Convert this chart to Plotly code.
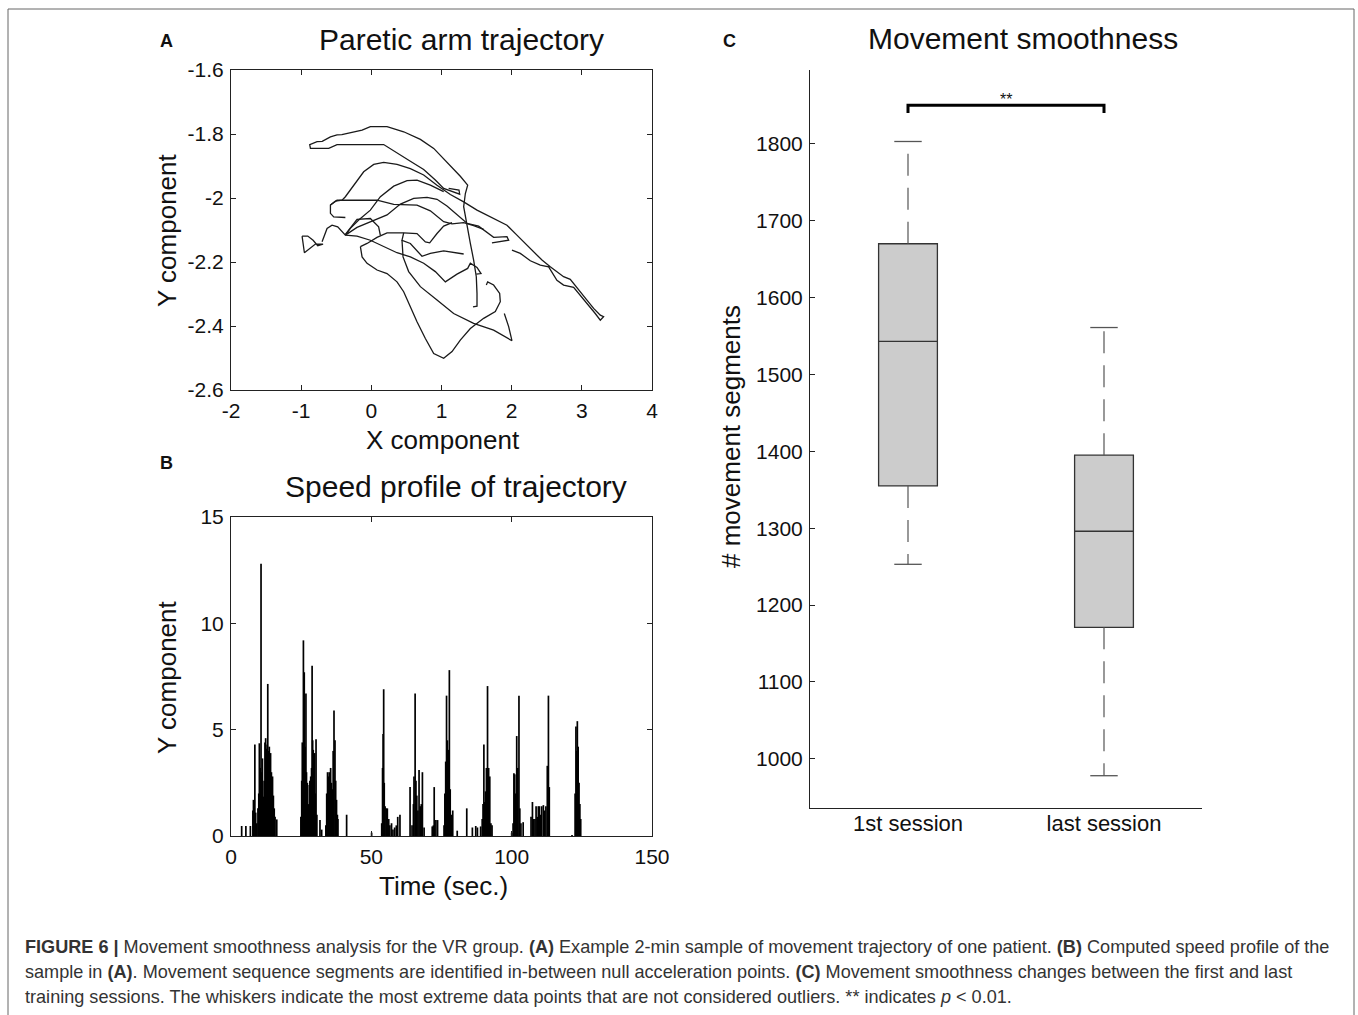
import plotly.graph_objects as go

W, H = 1358, 1015
FONT = "Liberation Sans, Arial, sans-serif"


def fx(p):
    return p / W


def fy(p):
    return 1 - p / H


# ---------------- Panel A: trajectory (strokes separated by None) ----------------
traj_x = [
    1.102, 1.249, 1.259, 1.031, 0.912, 0.746, 0.556, 0.366, 0.176, -0.489, -0.607, -0.868,
    -0.878, -0.773, -0.700, -0.583, -0.489, -0.420, -0.346, -0.227, -0.132, -0.014, 0.224, 0.461,
    0.699, 0.889, 1.078, 1.268, 1.373, 1.340, 1.316, 1.363, 1.411, 1.458, 1.496, 1.506, 1.506, 1.449,
    None,
    -0.370, -0.536, -0.583, -0.583, -0.512, -0.417, -0.370, -0.299, -0.204, -0.109, 0.034, 0.176,
    0.366, 0.556, 0.746, 0.936, 1.126, 1.316, 1.506, 1.648, 1.791, 1.933, 2.075, 2.266, 2.432,
    2.550, 2.740, 2.835, 2.954, 3.073, 3.168, 3.263, 3.310, 3.263, 3.191, 3.073, 2.978, 2.883,
    2.740, 2.645, 2.527, 2.408, 2.266, 2.123, 2.004,
    None,
    1.031, 0.841, 0.651, 0.509, 0.319, 0.129, -0.014, -0.180, -0.299, -0.370,
    -0.204, -0.014, 0.224, 0.414, 0.604, 0.794, 0.936, 1.078, 1.221, 1.363, 1.529, 1.672, 1.743,
    1.933, 1.957, 1.719,
    None,
    -0.583, -0.489, -0.204, 0.081, 0.319, 0.651, 0.841, 1.031, 1.150, 1.316, 1.458, 1.601,
    None,
    -0.987, -0.906, -0.830, -0.764, -0.688, -0.797, -0.954, -0.973, -0.987,
    None,
    -0.702, -0.631, -0.560, -0.479, -0.370, -0.204, -0.014, 0.176, 0.366, 0.556, 0.746, 0.912,
    1.055, 1.221, 1.373, 1.411, 1.506, 1.563, 1.496,
    None,
    -0.156, -0.061, 0.081, 0.224, 0.461, 0.651, 0.770, 0.832, 0.936, 1.031, 1.150,
    None,
    0.461, 0.437, 0.556, 0.722, 0.841, 1.031, 1.316,
    None,
    -0.156, -0.132, -0.061, 0.081, 0.224, 0.366, 0.461, 0.556, 0.651, 0.770, 0.889, 1.031,
    1.150, 1.268, 1.411, 1.601, 1.767, 1.838, 1.829, 1.743, 1.658, 1.639,
    None,
    0.437, 0.452, 0.532, 0.699, 0.936, 1.173, 1.458, 1.743, 2.004, 1.957, 1.895,
    None,
    -0.370, -0.204, -0.014, 0.104, 0.128,
]
traj_y = [
    -1.970, -1.975, -1.988, -1.970, -1.944, -1.911, -1.885, -1.859, -1.833, -1.833, -1.845, -1.845,
    -1.833, -1.824, -1.823, -1.809, -1.803, -1.802, -1.798, -1.791, -1.788, -1.777, -1.777, -1.793,
    -1.817, -1.845, -1.887, -1.932, -1.960, -1.986, -2.027, -2.090, -2.142, -2.194, -2.246, -2.298, -2.338, -2.340,
    None,
    -2.061, -2.059, -2.048, -2.022, -2.010, -2.007, -1.996, -1.975, -1.944, -1.918, -1.895, -1.889,
    -1.895, -1.908, -1.928, -1.960, -1.989, -2.012, -2.038, -2.053, -2.069, -2.085, -2.116, -2.158, -2.194,
    -2.215, -2.246, -2.254, -2.288, -2.319, -2.345, -2.366, -2.371, -2.382, -2.361, -2.329, -2.303, -2.279,
    -2.272, -2.257, -2.215, -2.210, -2.196, -2.173, -2.163,
    None,
    -1.980, -1.960, -1.944, -1.946, -1.963, -1.996, -2.038, -2.069, -2.095, -2.116,
    -2.092, -2.074, -2.053, -2.019, -2.001, -1.998, -2.004, -2.025, -2.053, -2.079, -2.088, -2.111, -2.123,
    -2.121, -2.132, -2.140,
    None,
    -2.022, -2.007, -2.007, -2.007, -2.020, -2.022, -2.040, -2.074, -2.081, -2.077, -2.086, -2.098,
    None,
    -2.119, -2.119, -2.132, -2.149, -2.144, -2.144, -2.171, -2.142, -2.119,
    None,
    -2.137, -2.095, -2.085, -2.090, -2.116, -2.119, -2.132, -2.152, -2.171, -2.184, -2.204, -2.230,
    -2.262, -2.238, -2.220, -2.204, -2.217, -2.236, -2.238,
    None,
    -2.152, -2.142, -2.123, -2.109, -2.109, -2.111, -2.137, -2.140, -2.111, -2.088, -2.077,
    None,
    -2.109, -2.132, -2.142, -2.182, -2.173, -2.165, -2.175,
    None,
    -2.152, -2.184, -2.204, -2.225, -2.236, -2.262, -2.293, -2.340, -2.387, -2.439, -2.486, -2.501,
    -2.480, -2.444, -2.408, -2.376, -2.355, -2.324, -2.298, -2.272, -2.262, -2.272,
    None,
    -2.132, -2.184, -2.230, -2.277, -2.319, -2.361, -2.392, -2.413, -2.446, -2.402, -2.361,
    None,
    -2.114, -2.067, -2.064, -2.090, -2.116,
]

a_xticks = [-2, -1, 0, 1, 2, 3, 4]
a_yticks = [-2.6, -2.4, -2.2, -2.0, -1.8, -1.6]
a_yticklabels = ["-2.6", "-2.4", "-2.2", "-2", "-1.8", "-1.6"]
a_xticklabels = ["-2", "-1", "0", "1", "2", "3", "4"]

# ---------------- Panel B: speed profile (time s, speed) ----------------
speed_samples = [
    (3.8, 0.47), (5.3, 0.47), (6.9, 0.47),
    (7.8, 1.2), (8.0, 1.7), (8.5, 4.3), (8.8, 1.1), (9.2, 0.6), (9.6, 1.3), (9.9, 2.0),
    (10.1, 4.36), (10.4, 3.2), (10.7, 12.8), (11.0, 3.0), (11.2, 3.65), (11.5, 1.85),
    (11.8, 2.6), (12.1, 4.4), (12.35, 4.6), (12.6, 4.1), (12.9, 4.3), (13.1, 7.15),
    (13.4, 4.0), (13.65, 4.2), (13.9, 3.6), (14.1, 3.9), (14.4, 3.0), (14.8, 2.8),
    (15.1, 1.9), (15.4, 1.3), (15.7, 0.9), (16.3, 0.78),
    (24.9, 0.9), (25.2, 2.6), (25.4, 4.4), (25.6, 4.0), (25.8, 9.2), (26.0, 5.5),
    (26.1, 7.7), (26.4, 4.2), (26.7, 6.7), (26.9, 3.0), (27.2, 2.5), (27.5, 1.5),
    (27.9, 2.4), (28.1, 2.6), (28.4, 2.8), (28.7, 3.2), (28.9, 8.0), (29.1, 4.5),
    (29.3, 4.05), (29.5, 2.3), (29.8, 3.9), (30.0, 2.0), (30.3, 4.55), (30.6, 1.0),
    (31.7, 0.75), (32.3, 0.3),
    (33.8, 0.5), (34.1, 2.0), (34.4, 3.0), (34.7, 2.8), (35.0, 3.0), (35.2, 2.2),
    (35.5, 3.2), (35.8, 2.5), (36.1, 2.2), (36.4, 4.0), (36.7, 5.9), (37.05, 4.5),
    (37.3, 2.6), (37.6, 1.7), (37.9, 1.0), (38.1, 0.8),
    (41.2, 1.0), (50.1, 0.16),
    (53.7, 0.6), (54.0, 3.2), (54.2, 4.8), (54.4, 6.9), (54.6, 2.5), (54.9, 1.4),
    (55.3, 1.3), (55.7, 1.3), (56.2, 0.8), (56.6, 0.5), (57.2, 0.6), (57.7, 0.3),
    (58.3, 0.4), (58.9, 0.5), (59.4, 0.9), (60.2, 1.0),
    (63.8, 2.3), (64.5, 0.5), (65.0, 1.5), (65.2, 2.8), (65.6, 6.7), (65.9, 2.6),
    (66.2, 1.9), (66.6, 1.2), (67.0, 3.1), (67.4, 1.4), (67.8, 1.5), (68.2, 3.0),
    (68.8, 0.4), (71.7, 0.45), (72.1, 0.5), (72.4, 2.3), (73.0, 0.75), (73.6, 0.75),
    (75.9, 0.5), (76.2, 2.0), (76.5, 3.5), (76.8, 6.6), (77.1, 4.5), (77.4, 4.05),
    (77.8, 7.8), (78.1, 2.2), (78.5, 1.0), (79.0, 1.2), (80.6, 0.25),
    (84.0, 1.3), (86.0, 0.4), (87.2, 0.47), (87.8, 0.4),
    (88.95, 0.45), (89.5, 0.8), (89.8, 1.5), (90.1, 4.3), (90.4, 1.6), (90.7, 2.1),
    (91.0, 3.2), (91.4, 7.05), (91.8, 3.2), (92.2, 2.8), (92.6, 0.6), (93.0, 0.5),
    (100.0, 0.15), (100.5, 0.6), (100.8, 2.95), (101.1, 2.9), (101.4, 2.0), (101.8, 4.7),
    (102.2, 3.2), (102.6, 6.6), (102.9, 1.3), (103.3, 0.6), (104.1, 0.65),
    (106.9, 0.9), (107.4, 1.6), (107.8, 0.8), (108.3, 0.8), (108.7, 1.4), (109.1, 0.9),
    (109.5, 1.4), (109.9, 1.4), (110.3, 1.0), (110.7, 1.4), (111.3, 1.45), (111.7, 1.2),
    (112.2, 1.4), (112.7, 3.3), (113.1, 6.6), (113.4, 2.3),
    (121.5, 0.05), (122.6, 2.0), (122.9, 5.15), (123.2, 4.0), (123.4, 5.4), (123.7, 4.2),
    (124.0, 2.5), (124.3, 1.5), (124.6, 0.8),
]
b_xticks = [0, 50, 100, 150]
b_yticks = [0, 5, 10, 15]

# ---------------- Panel C: box plot ----------------
sessions = ["1st session", "last session"]
session_pos = [1, 2]
box_q1 = [1355, 1171]
box_median = [1543, 1296]
box_q3 = [1670, 1395]
whisker_low = [1253, 978]
whisker_high = [1803, 1561]
c_yticks = [1000, 1100, 1200, 1300, 1400, 1500, 1600, 1700, 1800]
bracket_low, bracket_high = 1840, 1850

fig = go.Figure()

# Panel A trace
fig.add_trace(go.Scatter(x=traj_x, y=traj_y, mode="lines",
                         line=dict(color="#1a1a1a", width=1.3),
                         xaxis="x", yaxis="y", showlegend=False, hoverinfo="skip"))

# Panel B spikes
sx, sy = [], []
for t, v in speed_samples:
    sx += [t, t, None]
    sy += [0, v, None]
fig.add_trace(go.Scatter(x=sx, y=sy, mode="lines",
                         line=dict(color="black", width=1.7),
                         xaxis="x2", yaxis="y2", showlegend=False, hoverinfo="skip"))

# Panel C boxes
for i in range(2):
    fig.add_trace(go.Box(x=[session_pos[i]], q1=[box_q1[i]], median=[box_median[i]],
                         q3=[box_q3[i]], lowerfence=[box_q1[i]], upperfence=[box_q3[i]],
                         width=0.30, whiskerwidth=0, boxpoints=False,
                         fillcolor="#cccccc", line=dict(color="#333333", width=1.3),
                         xaxis="x3", yaxis="y3", showlegend=False, hoverinfo="skip"))
    p = session_pos[i]
    # dashed whiskers
    fig.add_trace(go.Scatter(x=[p, p, None, p, p], y=[box_q3[i], whisker_high[i], None, box_q1[i], whisker_low[i]],
                             mode="lines", line=dict(color="#555555", width=1.2, dash="22px,12px"),
                             xaxis="x3", yaxis="y3", showlegend=False, hoverinfo="skip"))
    # caps
    fig.add_trace(go.Scatter(x=[p - 0.07, p + 0.07, None, p - 0.07, p + 0.07],
                             y=[whisker_high[i], whisker_high[i], None, whisker_low[i], whisker_low[i]],
                             mode="lines", line=dict(color="#555555", width=1.3),
                             xaxis="x3", yaxis="y3", showlegend=False, hoverinfo="skip"))

# significance bracket
fig.add_trace(go.Scatter(x=[session_pos[0], session_pos[0], session_pos[1], session_pos[1]],
                         y=[bracket_low, bracket_high, bracket_high, bracket_low],
                         mode="lines", line=dict(color="black", width=3),
                         xaxis="x3", yaxis="y3", showlegend=False, hoverinfo="skip"))

axcol = "#222222"
tickfont = dict(family=FONT, size=21, color="#111")
common = dict(showgrid=False, zeroline=False, showline=True, linecolor=axcol, linewidth=1,
              ticks="inside", ticklen=5, tickcolor=axcol, tickfont=tickfont, automargin=False)

fig.update_layout(
    width=W, height=H, autosize=False,
    margin=dict(l=0, r=0, t=0, b=0, pad=0, autoexpand=False),
    paper_bgcolor="white", plot_bgcolor="white",
    xaxis=dict(domain=[fx(231), fx(652)], range=[-2, 4], tickvals=a_xticks, ticktext=a_xticklabels,
               mirror="allticks", anchor="y", ticklabelstandoff=2, **common),
    yaxis=dict(domain=[fy(390), fy(70)], range=[-2.6, -1.6], tickvals=a_yticks, ticktext=a_yticklabels,
               mirror="allticks", anchor="x", ticklabelstandoff=2, **common),
    xaxis2=dict(domain=[fx(231), fx(652)], range=[0, 150], tickvals=b_xticks,
                mirror="allticks", anchor="y2", ticklabelstandoff=2, **common),
    yaxis2=dict(domain=[fy(836), fy(517)], range=[0, 15], tickvals=b_yticks,
                mirror="allticks", anchor="x2", ticklabelstandoff=2, **common),
    xaxis3=dict(domain=[fx(810), fx(1202)], range=[0.5, 2.5], tickvals=session_pos, ticktext=sessions,
                showgrid=False, zeroline=False, showline=True, linecolor=axcol, linewidth=1,
                ticks="", tickfont=dict(family=FONT, size=22, color="#111"), anchor="y3",
                ticklabelstandoff=-4, automargin=False),
    yaxis3=dict(domain=[fy(808), fy(70)], range=[936, 1896], tickvals=c_yticks,
                anchor="x3", ticklabelstandoff=2, **common),
)

ann = []


def add_text(text, x, y, size, bold=False, angle=0, xanchor="center", color="#111"):
    if bold:
        text = "<b>" + text + "</b>"
    ann.append(dict(text=text, x=fx(x), y=fy(y), xref="paper", yref="paper",
                    xanchor=xanchor, yanchor="middle", showarrow=False, textangle=angle,
                    font=dict(family=FONT, size=size, color=color)))


add_text("A", 166, 41, 18, bold=True)
add_text("Paretic arm trajectory", 461, 40, 30)
add_text("X component", 443, 440, 26)
add_text("Y component", 167, 230, 26, angle=-90)
add_text("B", 166, 463, 18, bold=True)
add_text("Speed profile of trajectory", 456, 486, 30)
add_text("Time (sec.)", 443, 886, 26)
add_text("Y component", 167, 677, 26, angle=-90)
add_text("C", 729, 41, 18, bold=True)
add_text("Movement smoothness", 1023, 38, 30)
add_text("# movement segments", 731, 437, 26, angle=-90)
ann.append(dict(text="**", x=1.5, y=1857, xref="x3", yref="y3", showarrow=False,
                font=dict(family=FONT, size=16, color="#111"), yanchor="middle"))

cap1 = ("<b>FIGURE 6 |</b> Movement smoothness analysis for the VR group. <b>(A)</b> Example 2-min sample "
        "of movement trajectory of one patient. <b>(B)</b> Computed speed profile of the")
cap2 = ("sample in <b>(A)</b>. Movement sequence segments are identified in-between null acceleration "
        "points. <b>(C)</b> Movement smoothness changes between the first and last")
cap3 = ("training sessions. The whiskers indicate the most extreme data points that are not considered "
        "outliers. ** indicates <i>p</i> &lt; 0.01.")
for txt, yy in [(cap1, 947), (cap2, 972), (cap3, 997)]:
    add_text(txt, 23, yy, 18.1, xanchor="left", color="#333")

fig.update_layout(annotations=ann)

fig.add_shape(type="rect", xref="paper", yref="paper", x0=fx(8), x1=fx(1354), y0=fy(1030), y1=fy(9),
              line=dict(color="#666666", width=1), fillcolor="rgba(0,0,0,0)", layer="below")

fig.write_html("out.html", config={"displayModeBar": False},
               post_script="document.body.style.margin='0';document.body.style.overflow='hidden';")
